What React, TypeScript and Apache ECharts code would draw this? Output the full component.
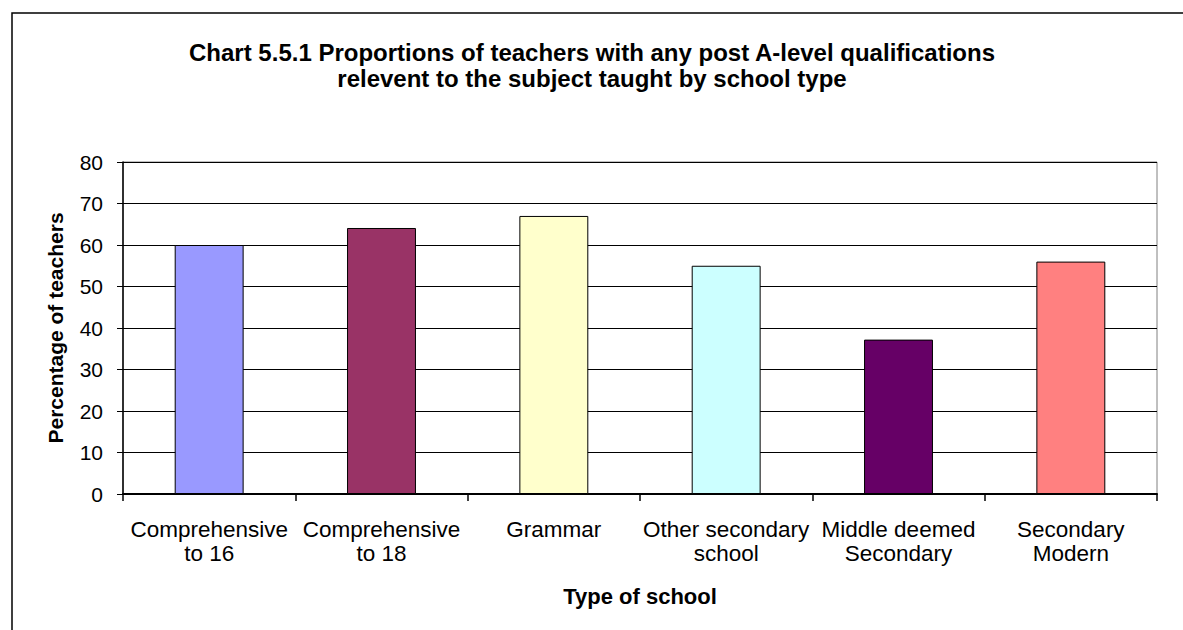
import React, { useEffect, useRef } from "react";
import * as echarts from "echarts";

const categories = [
  "Comprehensive\nto 16",
  "Comprehensive\nto 18",
  "Grammar",
  "Other secondary\nschool",
  "Middle deemed\nSecondary",
  "Secondary\nModern",
];
const values = [60, 64.1, 67, 55, 37.2, 56];
const barColors = ["#9999FF", "#993366", "#FFFFCC", "#CCFFFF", "#660066", "#FF8080"];
const titleLines = [
  "Chart 5.5.1 Proportions of teachers with any post A-level qualifications",
  "relevent to the subject taught by school type",
];
const yAxisName = "Percentage of teachers";
const xAxisName = "Type of school";

const FONT = "'Liberation Sans', Arial, sans-serif";

export default function App() {
  const ref = useRef<HTMLDivElement>(null);
  useEffect(() => {
    document.body.style.margin = "0";
    if (!ref.current) return;
    const chart = echarts.init(ref.current, undefined, { renderer: "svg" });
    chart.setOption({
      animation: false,
      backgroundColor: "#ffffff",
      textStyle: { fontFamily: FONT },
      graphic: [
        {
          type: "rect",
          shape: { x: 12, y: 13, width: 1300, height: 800 },
          style: { fill: "none", stroke: "#000", lineWidth: 1.5 },
          silent: true,
          z: 100,
        },
        ...titleLines.map((t, i) => ({
          type: "text",
          x: 592,
          y: 52 + i * 26,
          silent: true,
          style: {
            text: t,
            fontFamily: FONT,
            fontSize: 24,
            fontWeight: "bold",
            fill: "#000",
            textAlign: "center",
            textVerticalAlign: "middle",
          },
        })),
      ],
      grid: {
        left: 123,
        right: 26,
        top: 162,
        bottom: 136,
        show: true,
        borderColor: "#808080",
        borderWidth: 1,
        backgroundColor: "#fff",
      },
      xAxis: {
        type: "category",
        data: categories,
        name: xAxisName,
        nameLocation: "middle",
        nameGap: 91,
        nameTextStyle: { fontFamily: FONT, fontSize: 22, fontWeight: "bold", color: "#000" },
        axisLine: { show: true, lineStyle: { color: "#000", width: 2 } },
        axisTick: { show: true, alignWithLabel: false, interval: 0, length: 7, lineStyle: { color: "#000", width: 1.5 } },
        axisLabel: {
          interval: 0,
          margin: 23,
          fontFamily: FONT,
          fontSize: 22.5,
          color: "#000",
          lineHeight: 24,
          verticalAlign: "top",
        },
        splitLine: { show: false },
      },
      yAxis: {
        type: "value",
        min: 0,
        max: 80,
        interval: 10,
        name: yAxisName,
        nameLocation: "middle",
        nameGap: 57,
        nameRotate: 90,
        nameTextStyle: { fontFamily: FONT, fontSize: 21, fontWeight: "bold", color: "#000" },
        axisLine: { show: true, lineStyle: { color: "#000", width: 1.5 } },
        axisTick: { show: true, length: 6, lineStyle: { color: "#000", width: 1 } },
        axisLabel: { margin: 20, fontFamily: FONT, fontSize: 21, color: "#000" },
        splitLine: { show: true, lineStyle: { color: "#000", width: 1 } },
      },
      series: [
        {
          type: "bar",
          data: values.map((v, i) => ({
            value: v,
            itemStyle: { color: barColors[i], borderColor: "#000", borderWidth: 1 },
          })),
          barCategoryGap: "60%",
        },
      ],
    });
    return () => chart.dispose();
  }, []);
  return <div ref={ref} style={{ width: 1183, height: 630 }} />;
}
